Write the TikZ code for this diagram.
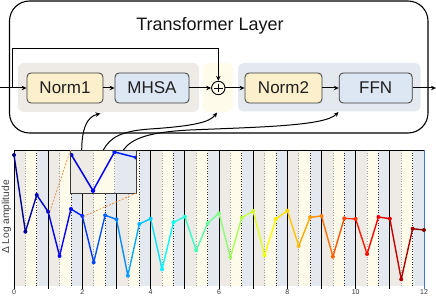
\documentclass[tikz,border=0pt]{standalone}
\usepackage{fontspec}
\setmainfont{Liberation Sans}
\usetikzlibrary{arrows.meta,calc}
\definecolor{bggray}{HTML}{EEEBE6}
\definecolor{bgyel}{HTML}{FFFBEB}
\definecolor{bgblue}{HTML}{E3E9EE}
\definecolor{normc}{HTML}{FCEFCC}
\definecolor{attc}{HTML}{DCE7F3}
\definecolor{edgec}{HTML}{3A3A3A}
\definecolor{orangec}{HTML}{F0883A}
\definecolor{bluefr}{HTML}{4472C4}
\newcommand\jetcol[1]{%
 \pgfmathsetmacro\jr{max(0,min(1,min(4*#1-1.5,-4*#1+4.5)))}%
 \pgfmathsetmacro\jg{max(0,min(1,min(4*#1-0.5,-4*#1+3.5)))}%
 \pgfmathsetmacro\jb{max(0,min(1,min(4*#1+0.5,-4*#1+2.5)))}%
 \definecolor{jc}{rgb}{\jr,\jg,\jb}}
\def\ys{{155,231.7,195,211.7,256,209,216,262.3,215.3,219.3,275.7,224,218.7,269.3,222.3,216.7,250.3,223.3,213.3,257.3,217.7,211,255.3,219,210.7,246,217.3,216,256.7,218.3,219,254,217,218.7,279.3,228.7,230}}
\begin{document}
\begin{tikzpicture}[x=1pt,y=-1pt,
  arr/.style={-{Stealth[length=5pt,width=4.5pt]}, line width=1pt},
  blk/.style={draw=edgec, line width=0.8pt, rounded corners=4pt, minimum height=30pt, inner sep=0pt, text=black!88, font=\fontsize{17}{20}\selectfont},
  backd/.style={rounded corners=6pt, draw=none, inner sep=0pt, outer sep=0pt},
  bandline1/.style={gray!75, dotted, line width=0.6pt},
  bandline2/.style={black!80, dotted, line width=0.6pt},
  odash/.style={orangec, line width=0.7pt, dash pattern=on 2pt off 1.5pt},
]
\useasboundingbox (0,0) rectangle (436,296);
% ---------------- top diagram ----------------
\draw[line width=1.1pt, rounded corners=20pt] (9.5,1) rectangle (428,133);
\node[font=\fontsize{18}{22}\selectfont, text=black!92] (title) at (210,26) {Transformer Layer};
\node[backd, fill=bggray, minimum width=181pt, minimum height=49pt] (bg1) at (108.5,87.5) {};
\node[backd, fill=bgyel, minimum width=30.5pt, minimum height=49pt] (bg2) at (217.75,87.5) {};
\node[backd, fill=bgblue, minimum width=182.5pt, minimum height=48.5pt] (bg3) at (329.25,87.25) {};
\node[blk, fill=normc, minimum width=76pt] (n1) at (65,88) {Norm1};
\node[blk, fill=attc, minimum width=74pt] (mhsa) at (152,88) {MHSA};
\node[draw=black, circle, line width=0.9pt, minimum size=13.4pt, inner sep=0pt] (plus) at (218.3,88) {};
\draw[line width=0.9pt] ($(plus.center)+(-4.2,0)$) -- ($(plus.center)+(4.2,0)$);
\draw[line width=0.9pt] ($(plus.center)+(0,-4.2)$) -- ($(plus.center)+(0,4.2)$);
\node[blk, fill=normc, minimum width=77pt] (n2) at (283.5,88) {Norm2};
\node[blk, fill=attc, minimum width=73pt] (ffn) at (375.7,88) {FFN};
\coordinate (inL) at (0,88);
\coordinate (outR) at (436,88);
\coordinate (skA) at (12.3,88);
\coordinate (skB) at (218.3,48.3);
\draw[arr] (inL) -- (n1);
\draw[arr] (n1) -- (mhsa);
\draw[arr] (mhsa) -- (plus);
\draw[arr] (plus) -- (n2);
\draw[arr] (n2) -- (ffn);
\draw[arr] (ffn) -- (outR);
\draw[arr] (skA) |- (skB) -- (plus);
% ---------------- plot ----------------
\foreach \k in {0,...,11} {
  \pgfmathsetmacro\xa{14+\k*34.1667}
  \pgfmathsetmacro\xb{\xa+11.3889}
  \pgfmathsetmacro\xc{\xa+22.7778}
  \pgfmathsetmacro\xd{\xa+34.1667}
  \fill[bggray] (\xa,150) rectangle (\xb,286);
  \fill[bgyel] (\xb,150) rectangle (\xc,286);
  \fill[bgblue] (\xc,150) rectangle (\xd,286);
  \draw[bandline1] (\xb,150) -- (\xb,286);
  \draw[bandline2] (\xc,150) -- (\xc,286);
  \draw[line width=0.8pt] (\xa,150) -- (\xa,288.5);
}
\draw[bluefr, line width=0.9pt] (424,150) -- (424,288.5);
\draw[line width=0.8pt] (14,150) -- (424,150);
\foreach \k in {0,2,...,12} {
  \node[font=\fontsize{7}{8}\selectfont, text=black!80, anchor=north, inner sep=0pt] (tk\k) at (14+\k*34.1667,289.3) {\k};
}
\node[rotate=90, font=\fontsize{10.2}{12}\selectfont, text=black!75] (ylab) at (6.5,217) {Δ Log amplitude};
\foreach \i in {0,...,35} {
  \pgfmathtruncatemacro\ii{\i+1}
  \pgfmathsetmacro\ya{\ys[\i]}
  \pgfmathsetmacro\yb{\ys[\ii]}
  \pgfmathsetmacro\tv{(\i+0.5)/36}
  \jetcol{\tv}
  \draw[jc, line width=1.4pt] (14+\i*11.3889,\ya) -- (14+\ii*11.3889,\yb);
}
\foreach \i in {0,...,36} {
  \pgfmathsetmacro\ya{\ys[\i]}
  \pgfmathsetmacro\tv{\i/36}
  \jetcol{\tv}
  \fill[jc] (14+\i*11.3889,\ya) circle (2pt);
}
% ---------------- inset ----------------
\begin{scope}
\clip (70.5,150) rectangle (136.5,193);
\fill[bggray] (70.5,150) rectangle (93,193);
\fill[bgyel] (93,150) rectangle (114.5,193);
\fill[bgblue] (114.5,150) rectangle (136.5,193);
\draw[bandline1] (93,150) -- (93,193);
\draw[bandline1] (114.5,150) -- (114.5,193);
\jetcol{0.097}
\draw[jc, line width=1.5pt] (71.5,155) -- (93,190.7);
\fill[jc] (71.5,155) circle (2pt);
\jetcol{0.125}
\draw[jc, line width=1.5pt] (93,190.7) -- (114.5,152);
\fill[jc] (93,190.7) circle (2.2pt);
\jetcol{0.153}
\draw[jc, line width=1.5pt] (114.5,152) -- (136,157.5);
\fill[jc] (114.5,152) circle (2.2pt);
\fill[jc] (136,157.5) circle (2pt);
\end{scope}
\node[draw=edgec, line width=0.7pt, minimum width=66pt, minimum height=43pt, inner sep=0pt, outer sep=0pt] (inset) at (103.5,171.5) {};
\coordinate (z1) at (49,214);
\coordinate (z2) at (82.3,217);
\draw[odash] (inset.north west) -- (z1);
\draw[odash] (inset.south east) -- (z2);
% ---------------- curved arrows ----------------
\coordinate (a1) at (81.7,150);
\coordinate (a2) at (103.3,150);
\coordinate (a3) at (123.3,150);
\coordinate (t1) at (100.5,113.5);
\coordinate (t2) at (217,112.5);
\coordinate (t3) at (338.5,112);
\draw[arr] (a1) .. controls (82,130) and (86,117) .. (t1);
\draw[arr] (a2) .. controls (110,138) and (120,131) .. (150,129) .. controls (195,126) and (210,122) .. (t2);
\draw[arr] (a3) .. controls (132,138) and (150,132) .. (190,130) .. controls (260,127) and (325,126) .. (t3);
\end{tikzpicture}
\end{document}
